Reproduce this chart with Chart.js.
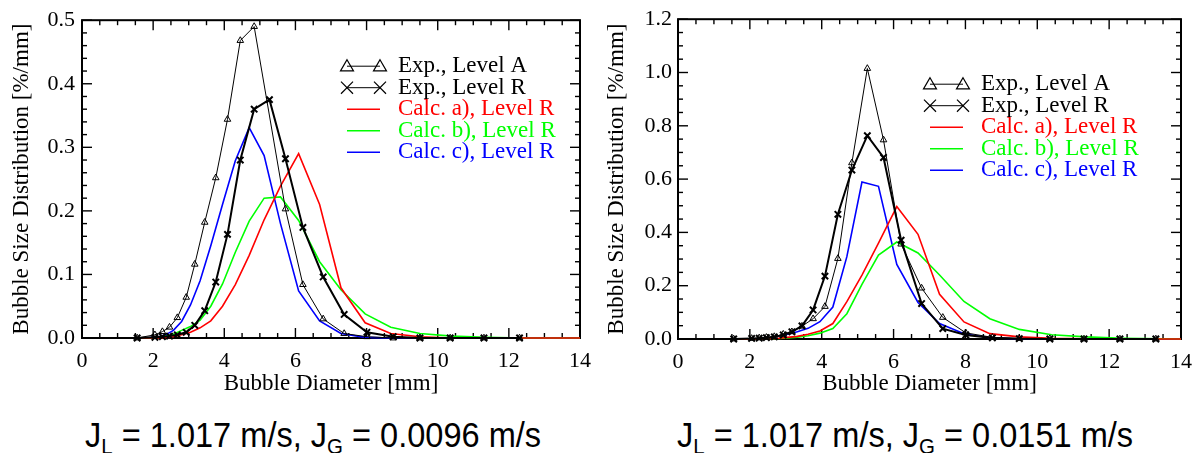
<!DOCTYPE html>
<html>
<head>
<meta charset="utf-8">
<script src="https://cdn.jsdelivr.net/npm/chart.js@4.4.1/dist/chart.umd.min.js"></script>
<style>
  body { margin: 0; background: #fff; }
  #page { position: relative; width: 1202px; height: 453px; overflow: hidden; }
  .panel { position: absolute; top: 0; width: 601px; height: 398px; }
  .caption {
    position: absolute; top: 417px;
    font-family: "Liberation Sans Narrow", "Arial Narrow", "Liberation Sans", sans-serif;
    font-size: 35px; color: #000; white-space: nowrap; line-height: 1;
    transform: scaleX(0.93); transform-origin: left top;
  }
  .caption sub { font-size: 22px; vertical-align: -7px; line-height: 0; }
</style>
</head>
<body>
<div id="page">
  <div class="panel" style="left:0"><canvas id="leftChart"></canvas></div>
  <div class="panel" style="left:601px"><canvas id="rightChart"></canvas></div>
  <div class="caption" style="left:85px">J<sub>L</sub> = 1.017 m/s, J<sub>G</sub> = 0.0096 m/s</div>
  <div class="caption" style="left:677px">J<sub>L</sub> = 1.017 m/s, J<sub>G</sub> = 0.0151 m/s</div>
</div>
<script>
// --- dados ---

// diâmetros das classes medidas e calculadas [mm]
const expDiameter = [1.55, 2.05, 2.26, 2.46, 2.68, 2.93, 3.17, 3.45, 3.76, 4.09, 4.45, 4.84,
                     5.27, 5.72, 6.21, 6.78, 7.37, 8.01, 8.75, 9.5, 10.35, 11.3, 12.3, 13.3];
const calcDiameter = [1.67, 1.82, 1.98, 2.16, 2.35, 2.57, 2.80, 3.05, 3.32, 3.62, 3.95, 4.31, 4.70,
                      5.12, 5.58, 6.09, 6.68, 7.28, 7.96, 8.68, 9.50, 10.4, 11.35, 12.4, 13.5, 14.0];

const legendLabels = ['Exp., Level A', 'Exp., Level R', 'Calc. a), Level R', 'Calc. b), Level R', 'Calc. c), Level R'];
const xTickStep = 2;

// J_G = 0.0096 m/s
const expA_0096 = [0, 0.005, 0.010, 0.017, 0.032, 0.064, 0.116, 0.182, 0.252, 0.344, 0.468, 0.490,
                   null, 0.203, 0.084, 0.030, 0.007, 0.002, 0, 0, 0, 0, 0, null];
const expR_0096 = [0, 0.001, 0.002, 0.003, 0.005, 0.009, 0.020, 0.043, 0.088, 0.163, 0.280, 0.360,
                   0.375, 0.282, 0.174, 0.096, 0.037, 0.009, 0.002, 0, 0, 0, 0, null];
const calcA_0096 = [0, 0, 0, 0, 0, 0.002, 0.005, 0.009, 0.016, 0.027, 0.050, 0.084, 0.130,
                    0.186, 0.239, 0.290, 0.210, 0.079, 0.024, 0.007, 0.002, 0, 0, 0, 0, 0];
const calcB_0096 = [0, 0, 0, 0.001, 0.003, 0.006, 0.012, 0.018, 0.028, 0.050, 0.085, 0.135, 0.184,
                    0.220, 0.222, 0.185, 0.120, 0.076, 0.038, 0.017, 0.007, 0.003, 0.001, 0, 0, 0];
const calcC_0096 = [0, 0, 0.001, 0.002, 0.005, 0.012, 0.026, 0.052, 0.090, 0.145, 0.210, 0.279, 0.331,
                    0.287, 0.180, 0.074, 0.027, 0.007, 0.001, 0, 0, 0, 0, 0, 0, 0];

// J_G = 0.0151 m/s
const expA_0151 = [0, 0.002, 0.004, 0.006, 0.009, 0.018, 0.027, 0.048, 0.076, 0.122, 0.302, 0.661,
                   1.015, 0.747, 0.356, 0.191, 0.081, 0.023, 0.006, 0.002, 0.001, 0, 0, 0];
const expR_0151 = [0, 0.002, 0.003, 0.005, 0.008, 0.015, 0.027, 0.049, 0.109, 0.236, 0.468, 0.634,
                   0.763, 0.681, 0.371, 0.133, 0.039, 0.015, 0.004, 0.001, 0, 0, 0, 0];
const calcA_0151 = [0, 0, 0, 0, 0, 0.001, 0.003, 0.006, 0.010, 0.018, 0.030, 0.058, 0.140,
                    0.240, 0.360, 0.497, 0.393, 0.168, 0.064, 0.020, 0.008, 0.003, 0.001, 0, 0, 0];
const calcB_0151 = [0, 0, 0, 0, 0, 0.001, 0.002, 0.004, 0.007, 0.012, 0.022, 0.039, 0.095,
                    0.205, 0.315, 0.364, 0.323, 0.240, 0.141, 0.076, 0.036, 0.016, 0.008, 0.003, 0.001, 0];
const calcC_0151 = [0, 0, 0, 0.001, 0.003, 0.005, 0.010, 0.018, 0.027, 0.040, 0.065, 0.120, 0.309,
                    0.589, 0.573, 0.280, 0.137, 0.058, 0.020, 0.005, 0, 0, 0, 0, 0, 0];

// --- estilo ---

const SERIF = '"Liberation Serif", "Times New Roman", serif';
const RED = '#ff0000', GREEN = '#00ff00', BLUE = '#0000ff';

function pares(xs, ys) {
  return xs.map((x, i) => ({ x: x, y: ys[i] }));
}

function montarSeries(expA, expR, calcA, calcB, calcC) {
  const calc = (valores, cor, i) => ({
    label: legendLabels[i], data: pares(calcDiameter, valores),
    borderColor: cor, borderWidth: 1.6, pointRadius: 0, textColor: cor
  });
  return [
    { label: legendLabels[0], data: pares(expDiameter, expA), borderColor: '#000', borderWidth: 1,
      pointStyle: 'triangle', pointRadius: 3.8, pointBorderWidth: 1, pointBorderColor: '#000',
      pointBackgroundColor: 'rgba(0,0,0,0)', spanGaps: true, textColor: '#000', keyRadius: 7.5 },
    { label: legendLabels[1], data: pares(expDiameter, expR), borderColor: '#000', borderWidth: 2,
      pointStyle: 'crossRot', pointRadius: 4.5, pointBorderWidth: 2, pointBorderColor: '#000',
      spanGaps: true, textColor: '#000', keyRadius: 8.5 },
    calc(calcA, RED, 2),
    calc(calcB, GREEN, 3),
    calc(calcC, BLUE, 4)
  ];
}

// moldura com marcas internas nos quatro lados
const molduraPlugin = {
  id: 'moldura',
  beforeDatasetsDraw(chart, args, opts) {
    const { ctx, chartArea: a, scales: { x, y } } = chart;
    ctx.save();
    ctx.strokeStyle = '#000';
    ctx.lineWidth = 1.4;
    const traco = (x1, y1, x2, y2) => { ctx.beginPath(); ctx.moveTo(x1, y1); ctx.lineTo(x2, y2); ctx.stroke(); };

    const nx = Math.round((x.max - x.min) / opts.xMinor);
    for (let i = 0; i <= nx; i++) {
      const px = x.getPixelForValue(x.min + i * opts.xMinor);
      const len = i % opts.xPer === 0 ? 10 : 5;
      traco(px, a.bottom, px, a.bottom - len);
      traco(px, a.top, px, a.top + len);
    }
    const ny = Math.round((y.max - y.min) / opts.yMinor);
    for (let i = 0; i <= ny; i++) {
      const py = y.getPixelForValue(y.min + i * opts.yMinor);
      const len = i % opts.yPer === 0 ? 10 : 5;
      traco(a.left, py, a.left + len, py);
      traco(a.right, py, a.right - len, py);
    }
    ctx.lineWidth = 2;
    ctx.strokeRect(a.left, a.top, a.right - a.left, a.bottom - a.top);
    ctx.restore();
  }
};

// legenda dentro da área do gráfico
const legendaPlugin = {
  id: 'legenda',
  afterDatasetsDraw(chart, args, opts) {
    const { ctx, chartArea: a } = chart;
    const x0 = a.left + opts.dx, y0 = a.top + opts.dy;
    ctx.save();
    ctx.font = '23px ' + SERIF;
    ctx.textBaseline = 'middle';
    chart.data.datasets.forEach((ds, i) => {
      const yy = y0 + i * opts.rowGap;
      ctx.strokeStyle = ds.borderColor;
      ctx.lineWidth = ds.pointStyle ? 1 : ds.borderWidth;
      ctx.beginPath();
      ctx.moveTo(x0, yy);
      ctx.lineTo(x0 + opts.sample, yy);
      ctx.stroke();
      if (ds.pointStyle) {
        ctx.fillStyle = 'rgba(0,0,0,0)';
        ctx.lineWidth = 1.2;
        const p = { pointStyle: ds.pointStyle, radius: ds.keyRadius, borderWidth: 1.2, rotation: 0 };
        const dy = ds.pointStyle === 'triangle' ? 1 : 0;
        Chart.helpers.drawPoint(ctx, p, x0, yy + dy);
        Chart.helpers.drawPoint(ctx, p, x0 + opts.sample, yy + dy);
      }
      ctx.fillStyle = ds.textColor;
      ctx.fillText(ds.label, x0 + opts.textGap, yy);
    });
    ctx.restore();
  }
};

function criarGrafico(id, datasets, cfg) {
  const fonte = { family: SERIF, size: 22 };
  const fonteTitulo = { family: SERIF, size: 23 };
  return new Chart(document.getElementById(id), {
    type: 'line',
    data: { datasets: datasets },
    plugins: [molduraPlugin, legendaPlugin],
    options: {
      responsive: true,
      maintainAspectRatio: false,
      animation: false,
      layout: { padding: { left: 0, right: cfg.padRight, top: cfg.padTop, bottom: 0 } },
      datasets: { line: { clip: false } },
      plugins: {
        legend: { display: false },
        tooltip: { enabled: false },
        moldura: { xMinor: 0.5, xPer: 4, yMinor: cfg.yMinor, yPer: cfg.yPer },
        legenda: { dx: cfg.keyX, dy: cfg.keyY, rowGap: 21.5, sample: 33, textGap: 51 }
      },
      scales: {
        x: {
          type: 'linear', min: 0, max: 14,
          grid: { display: false, drawTicks: false },
          border: { display: false },
          ticks: { stepSize: xTickStep, color: '#000', font: fonte, padding: 10, maxRotation: 0 },
          title: { display: true, text: 'Bubble Diameter [mm]', color: '#000', font: fonteTitulo, padding: { top: 0, bottom: 0 } },
          afterFit: s => { s.height = cfg.xHeight; }
        },
        y: {
          min: 0, max: cfg.yMax,
          grid: { display: false, drawTicks: false },
          border: { display: false },
          ticks: { stepSize: cfg.yStep, color: '#000', font: fonte, padding: cfg.yPad,
                   callback: v => Number(v).toFixed(1) },
          title: { display: true, text: 'Bubble Size Distribution [%/mm]', color: '#000', font: fonteTitulo,
                   padding: { top: cfg.titlePad, bottom: 0 } },
          afterFit: s => { s.width = cfg.yWidth; }
        }
      }
    }
  });
}

criarGrafico('leftChart', montarSeries(expA_0096, expR_0096, calcA_0096, calcB_0096, calcC_0096), {
  padRight: 15, padTop: 13, xHeight: 60, yWidth: 82, yMax: 0.5, yStep: 0.1,
  yMinor: 0.02, yPer: 5, yPad: 7, titlePad: 8, keyX: 265, keyY: 46
});

criarGrafico('rightChart', montarSeries(expA_0151, expR_0151, calcA_0151, calcB_0151, calcC_0151), {
  padRight: 19, padTop: 14, xHeight: 59, yWidth: 77, yMax: 1.2, yStep: 0.2,
  yMinor: 0.05, yPer: 4, yPad: 6, titlePad: 2, keyX: 252, keyY: 65
});
</script>
</body>
</html>
